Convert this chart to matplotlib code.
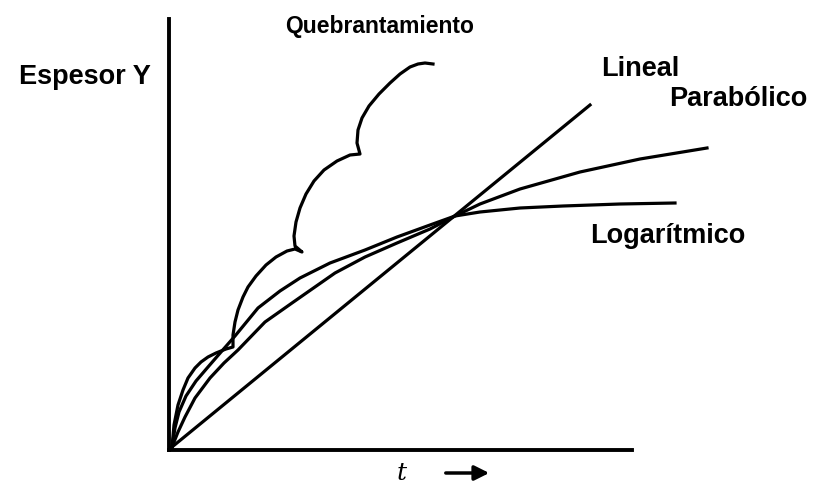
import matplotlib
matplotlib.use("Agg")
import matplotlib.pyplot as plt

plt.rcParams['font.family'] = ['Liberation Sans', 'DejaVu Sans']

# schematic curves, units: t and Y measured from the origin of the axes
lin_t = [3, 421]
lin_y = [3, 345]

par_t = [3, 9, 16, 26, 41, 55, 69, 96, 123, 166, 196, 228, 261, 286, 311, 351, 411, 471, 538]
par_y = [3, 18, 33, 52, 72, 87, 100, 128, 147, 177, 193, 207, 221, 234, 246, 261, 278, 291, 302]

log_t = [3, 6, 10, 17, 27, 39, 52, 66, 89, 111, 131, 161, 196, 228, 261, 286, 311, 351, 394, 451, 506]
log_y = [3, 22, 38, 54, 69, 83, 98, 114, 142, 159, 172, 187, 200, 213, 225, 234, 238, 242, 244, 246, 247]

brk_t = [3, 5, 9, 14, 19, 26, 32, 39, 47, 57, 64,
         64, 66, 69, 74, 79, 87, 97, 107, 118, 126, 133,
         126, 125, 127, 131, 137, 145, 155, 168, 181, 191,
         188, 189, 193, 200, 210, 221, 231, 241, 249, 256, 264]
brk_y = [3, 25, 45, 60, 72, 82, 88, 93, 97, 101, 103,
         115, 128, 140, 153, 163, 174, 185, 193, 199, 201, 198,
         204, 214, 228, 242, 256, 269, 280, 289, 295, 296,
         307, 320, 332, 344, 356, 367, 376, 383, 386, 387, 386]

fig = plt.figure(figsize=(8.14, 4.86), dpi=100)
ax = fig.add_axes([169 / 814, 36 / 486, 463 / 814, 431 / 486])
ax.set_xlim(0, 463)
ax.set_ylim(0, 431)

lw = 2.3
ax.plot(lin_t, lin_y, color='black', lw=lw, clip_on=False)
ax.plot(par_t, par_y, color='black', lw=lw, clip_on=False)
ax.plot(log_t, log_y, color='black', lw=lw, clip_on=False)
ax.plot(brk_t, brk_y, color='black', lw=lw, clip_on=False)

for s in ['top', 'right']:
    ax.spines[s].set_visible(False)
for s in ['left', 'bottom']:
    ax.spines[s].set_linewidth(2.8)
ax.set_xticks([])
ax.set_yticks([])

kw = dict(fontweight='bold', ha='center', va='center', clip_on=False)
ax.text(-84, 373, 'Espesor Y', fontsize=19.5, **kw)
ax.text(211, 424, 'Quebrantamiento', fontsize=16.5, **kw)
ax.text(471, 381, 'Lineal', fontsize=19.5, **kw)
ax.text(569, 351, 'Parabólico', fontsize=19.5, **kw)
ax.text(499, 214, 'Logarítmico', fontsize=19.5, **kw)

ax.text(233, -23, 't', fontsize=18, style='italic', ha='center', va='center',
        family='DejaVu Serif')
ax.annotate('', xy=(323, -23), xytext=(274, -23), annotation_clip=False,
            arrowprops=dict(arrowstyle='-|>', color='black', lw=2.5, mutation_scale=22))

fig.savefig('out.png', dpi=100)
